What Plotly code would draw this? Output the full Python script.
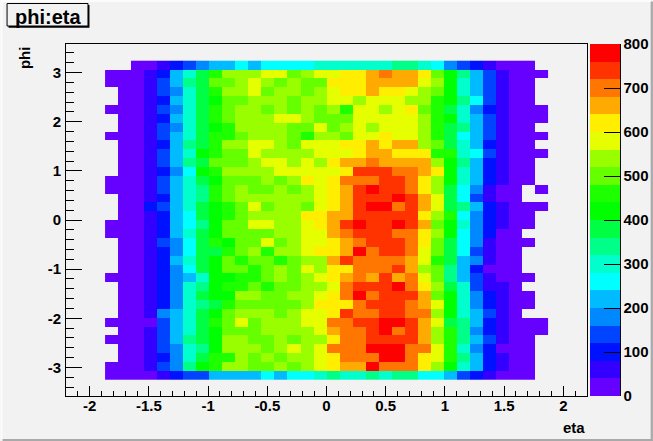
import plotly.graph_objects as go

_ = None
title_text = "phi:eta"
x_title = "eta"
y_title = "phi"
eta_ticks = [-2, -1.5, -1, -0.5, 0, 0.5, 1, 1.5, 2]
eta_labels = ["-2", "-1.5", "-1", "-0.5", "0", "0.5", "1", "1.5", "2"]
phi_ticks = [-3, -2, -1, 0, 1, 2, 3]
phi_labels = ["-3", "-2", "-1", "0", "1", "2", "3"]
cbar_ticks = [0, 100, 200, 300, 400, 500, 600, 700, 800]
eta_start = -1.87
eta_step = 0.11
phi_start = 3.24
phi_step = -0.18
level_colors = ["#6600ff", "#3300ff", "#0011ff", "#0044ff", "#0088ff", "#00bbff", "#00ffff",
                "#00ffcc", "#00ff88", "#00ff44", "#00ff00", "#1eff00", "#66ff00", "#99ff00",
                "#e6ff00", "#ffee00", "#ffaa00", "#ff7700", "#ff3300", "#ff0000"]

counts = [
[_,_,20,20,60,100,140,180,220,220,260,220,260,260,260,260,300,300,300,300,300,300,340,340,300,260,180,140,100,60,20,20,20,_],
[20,20,20,60,100,220,300,380,460,540,540,540,580,580,500,540,580,580,620,620,660,700,660,660,620,500,420,340,220,140,60,20,20,20],
[20,20,20,60,140,220,340,380,500,500,540,580,540,500,540,500,500,620,620,620,660,660,660,660,580,540,420,300,220,140,60,20,20,_],
[_,20,20,60,140,180,300,380,460,540,540,580,500,540,540,500,540,580,620,620,660,620,620,580,540,500,420,300,220,140,60,20,20,_],
[_,20,20,60,100,220,300,380,420,500,500,540,540,540,500,540,540,580,580,540,580,580,580,540,540,460,420,340,260,140,60,20,20,_],
[20,20,20,60,140,180,300,380,460,500,540,540,500,540,500,540,500,540,460,580,580,540,580,620,500,460,380,300,180,100,60,20,20,20],
[_,20,20,60,100,220,300,380,460,500,540,540,540,580,580,540,500,500,500,580,580,580,580,580,540,460,420,300,220,140,60,20,20,20],
[_,20,20,60,140,180,300,380,420,460,540,540,540,540,500,500,580,500,540,580,540,580,580,580,540,460,380,340,220,140,60,20,20,_],
[20,20,20,60,140,220,300,380,460,460,500,540,540,540,500,460,540,540,500,580,580,620,580,580,540,460,380,260,220,140,60,20,20,20],
[_,20,20,60,100,220,340,380,460,540,540,580,580,540,500,580,580,580,620,620,660,620,660,660,540,500,380,300,220,100,60,20,20,_],
[_,20,20,60,140,220,300,420,460,500,500,580,540,540,540,540,580,580,580,620,660,660,620,620,620,460,460,300,260,140,60,20,20,20],
[_,20,20,60,140,220,340,380,500,500,500,540,580,580,540,580,540,620,660,660,700,660,660,660,660,540,420,340,220,100,60,20,20,_],
[_,20,20,60,100,180,260,420,460,540,540,540,540,580,580,580,580,580,620,740,740,740,700,700,660,620,420,300,220,100,60,20,20,_],
[20,20,20,60,140,220,300,380,420,500,500,500,540,500,540,620,580,620,700,700,700,740,740,700,620,540,420,300,220,100,60,20,20,_],
[20,20,20,60,140,220,300,340,460,500,540,500,500,540,500,540,580,620,660,740,780,740,740,700,620,540,380,260,180,60,20,20,_,20],
[_,20,20,60,100,220,300,340,460,500,540,540,540,540,540,540,580,620,660,740,740,740,780,740,660,580,380,260,140,60,20,20,_,_],
[_,20,20,100,140,220,300,380,420,460,500,580,500,540,540,500,580,620,660,740,780,780,700,740,660,580,380,340,220,100,60,20,20,20],
[_,20,20,60,100,220,260,380,420,460,500,540,540,540,540,620,620,660,660,740,740,740,740,740,620,540,460,260,180,100,60,20,20,_],
[20,20,20,60,100,220,260,340,420,500,500,580,580,540,540,580,620,660,740,780,740,740,780,740,660,500,420,300,180,100,60,20,20,_],
[20,20,20,60,100,220,300,380,420,500,500,500,500,540,540,580,580,660,700,740,740,740,700,700,620,540,420,260,180,100,20,20,_,_],
[_,20,20,60,140,180,260,380,460,420,500,500,580,500,540,580,580,620,660,700,740,740,740,700,620,500,380,260,180,60,20,20,20,_],
[_,20,20,60,100,180,260,380,380,460,500,540,460,540,540,580,620,620,660,780,700,740,740,700,580,500,380,260,140,60,20,20,_,_],
[_,20,20,60,100,220,300,380,420,500,460,500,500,460,500,540,540,660,740,700,700,700,700,660,580,460,380,220,180,60,20,20,_,_],
[_,20,20,60,100,180,260,380,420,500,500,460,500,540,500,580,540,620,620,700,700,700,740,660,540,500,340,220,100,20,20,20,_,_],
[20,20,20,60,100,180,220,300,420,420,460,460,500,540,500,540,580,620,660,700,660,740,660,700,580,500,340,220,140,60,20,20,20,_],
[_,20,20,60,100,180,300,340,420,460,460,500,460,500,500,540,540,580,700,740,740,740,780,700,620,540,380,300,140,60,60,20,_,_],
[_,20,20,60,100,180,300,380,420,420,540,540,500,500,540,540,580,620,700,780,700,740,740,740,660,500,420,300,180,100,60,20,20,_],
[_,20,20,60,100,180,300,340,380,460,500,500,500,500,500,540,620,620,620,700,740,740,740,700,660,580,420,300,180,100,60,20,20,_],
[_,20,20,60,180,220,300,380,420,500,540,540,540,500,540,580,580,620,740,700,700,740,740,700,700,540,420,300,220,140,60,20,_,_],
[20,20,20,20,140,220,300,380,460,500,580,500,540,540,540,580,580,700,700,740,740,780,780,740,660,580,380,340,220,100,60,20,20,20],
[_,20,20,60,140,220,300,380,420,500,500,500,540,540,540,540,580,660,700,700,740,780,700,740,660,540,460,340,180,100,60,20,20,20],
[20,20,20,60,140,220,340,380,420,540,540,500,500,540,500,540,540,620,700,700,740,740,740,740,660,540,460,340,220,140,60,20,20,_],
[_,20,20,60,140,180,300,340,420,540,540,540,500,540,580,540,580,700,700,700,780,780,780,700,700,580,460,300,180,100,20,20,20,_],
[_,20,20,60,100,180,300,380,460,460,540,500,540,500,540,540,580,620,700,700,700,780,780,700,620,580,460,340,220,100,60,20,20,_],
[20,20,20,60,140,180,340,420,460,540,540,500,500,540,500,540,580,620,660,660,780,700,700,700,620,540,420,300,220,100,60,20,20,_],
[20,20,20,20,60,100,140,140,220,220,220,220,260,220,260,260,300,340,300,300,340,300,340,340,260,260,220,140,100,60,20,20,20,_],
]
assert len(counts) == 36 and all(len(r) == 34 for r in counts)

W, H = 653, 441
L, R, T, B = 65.5, 587.0, 44.0, 396.0
BG = "#f2f2f2"
FONT = "Liberation Sans"
bold = dict(family=FONT, size=15, color="black", weight="bold")


def px(x):
    return (x - L) / (R - L)


def py(y):
    return (B - y) / (B - T)


n = len(level_colors)
scale = []
for i, c in enumerate(level_colors):
    scale += [[i / n, c], [(i + 1) / n, c]]

fig = go.Figure(go.Heatmap(
    z=counts,
    x0=eta_start + eta_step / 2, dx=eta_step,
    y0=phi_start + phi_step / 2, dy=phi_step,
    zmin=0, zmax=800, colorscale=scale, hoverongaps=False, xgap=0, ygap=0,
    colorbar=dict(
        x=px(590), xref="paper", xanchor="left", xpad=0, ypad=0,
        y=0, yanchor="bottom", len=1, lenmode="fraction",
        thickness=30, thicknessmode="pixels", outlinewidth=0, borderwidth=0,
        tickmode="array", tickvals=cbar_ticks, ticktext=[str(v) for v in cbar_ticks],
        ticks="inside", ticklen=16, tickwidth=1, tickcolor="black",
        tickfont=bold,
    ),
))


def rect(x0, y0, x1, y1, fill, line=None):
    return dict(type="rect", xref="paper", yref="paper",
                x0=px(x0), x1=px(x1), y0=py(y0), y1=py(y1), fillcolor=fill,
                line=dict(color=line or fill, width=1 if line else 0), layer="above")


shapes = [
    rect(W - 2.3, 1.5, W, H, "#a9a9a9"),
    rect(2, H - 2, W, H, "#a9a9a9"),
    rect(0, 0, 2, H - 2, "#fcfcfc"),
    rect(0, 0, W - 2.3, 2, "#fcfcfc"),
    rect(8, 5, 89, 27.7, "black"),
    rect(6.5, 3.5, 87.5, 26, BG, "black"),
    dict(type="line", xref="paper", yref="paper", x0=px(620.5), x1=px(620.5), y0=py(T), y1=py(B),
         line=dict(color="black", width=1), layer="above"),
]

annotations = [
    dict(xref="paper", yref="paper", x=px(47), y=py(16.5), text=title_text, showarrow=False,
         font=dict(family=FONT, size=20, color="black", weight="bold"), xanchor="center", yanchor="middle"),
    dict(xref="paper", yref="paper", x=px(587), y=py(427), text=x_title, showarrow=False,
         font=bold, xanchor="right", yanchor="middle"),
    dict(xref="paper", yref="paper", x=px(24), y=py(44), text=y_title, showarrow=False, textangle=-90,
         font=bold, xanchor="center", yanchor="top"),
]

axis = dict(showgrid=False, zeroline=False, showline=True, linecolor="black", linewidth=1, mirror=True,
            ticks="inside", tickcolor="black", tickwidth=1, tickmode="array", tickfont=bold)

fig.update_layout(
    width=W, height=H, paper_bgcolor=BG, plot_bgcolor=BG,
    margin=dict(l=L, r=W - R, t=T, b=H - B, pad=0, autoexpand=False),
    xaxis=dict(axis, range=[-2.2, 2.2], tickvals=eta_ticks, ticktext=eta_labels, ticklen=10,
               ticklabelstandoff=-4,
               minor=dict(dtick=0.1, tick0=0, ticks="inside", ticklen=5, tickcolor="black", tickwidth=1, showgrid=False)),
    yaxis=dict(axis, range=[-3.58, 3.58], tickvals=phi_ticks, ticktext=phi_labels, ticklen=16,
               ticklabelstandoff=1,
               minor=dict(dtick=0.2, tick0=-3, ticks="inside", ticklen=8, tickcolor="black", tickwidth=1, showgrid=False)),
    shapes=shapes, annotations=annotations, font=dict(family=FONT),
)

fig.write_html("out.html", config=dict(displayModeBar=False),
               post_script="document.body.style.margin='0';document.body.style.overflow='hidden';")
